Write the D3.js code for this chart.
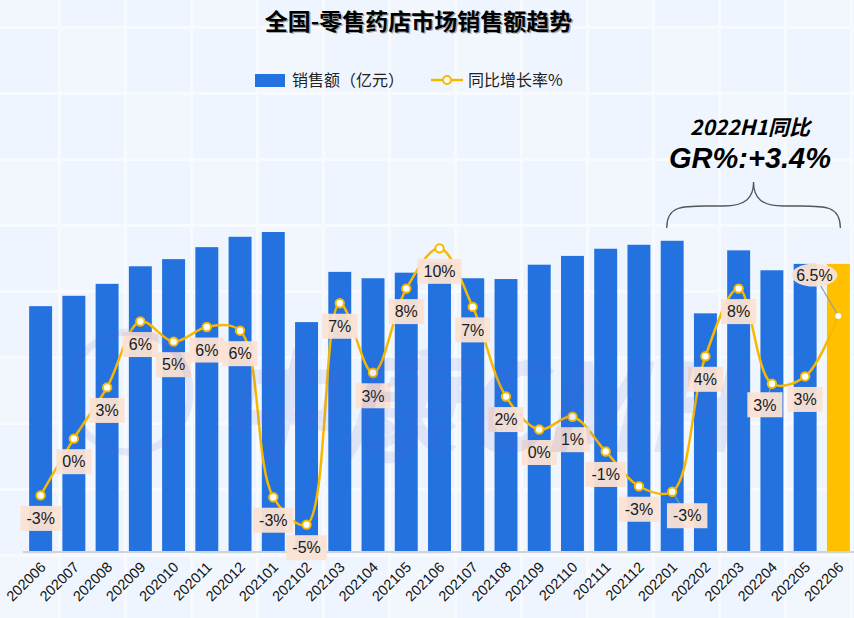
<!DOCTYPE html>
<html>
<head>
<meta charset="utf-8">
<script src="https://cdn.jsdelivr.net/npm/d3@7"></script>
<style>
  body { margin: 0; background: #f0f6fe; }
  svg { display: block; font-family: "Noto Sans CJK SC", "Noto Sans", sans-serif; }
</style>
</head>
<body>
<div id="chart"></div>
<script>
// Data
var months = ["202006", "202007", "202008", "202009", "202010", "202011", "202012",
    "202101", "202102", "202103", "202104", "202105", "202106", "202107", "202108",
    "202109", "202110", "202111", "202112", "202201", "202202", "202203", "202204",
    "202205", "202206"];

// monthly sales, 亿元 (estimated, no axis shown)
var sales = [307, 320, 335, 357, 366, 381, 394, 400, 287, 350, 342, 349, 362,
    342, 341, 359, 370, 379, 384, 389, 298, 377, 352, 360, 360];

// YoY growth, %
var growth = [-3.3, -0.2, 2.6, 6.2, 5.1, 5.9, 5.7, -3.4, -4.9, 7.2, 3.4, 8.0, 10.2,
    7.0, 2.1, 0.3, 1.0, -0.9, -2.8, -3.1, 4.3, 8.0, 2.8, 3.2, 6.5];

var legendLabels = ["销售额（亿元）", "同比增长率%"];

var svgWidth = 854;
var svgHeight = 618;
var baseline = 551;

var svg = d3.select("#chart")
    .append("svg")
    .attr("width", svgWidth)
    .attr("height", svgHeight);

// background tiles
var bg = svg.append("g");
bg.append("rect")
    .attr("width", svgWidth)
    .attr("height", svgHeight)
    .attr("fill", "#f7faff");
var tile = 66;
for (var gx = 0; gx * tile - 5 < svgWidth; gx++) {
    for (var gy = 0; gy * tile - 37 < svgHeight; gy++) {
        bg.append("rect")
            .attr("x", gx * tile - 5)
            .attr("y", gy * tile - 37)
            .attr("width", tile - 3)
            .attr("height", tile - 3)
            .attr("fill", (gx + gy * 2) % 3 === 0 ? "#f2f7fe" : "#eef5fe");
    }
}

// scales
var x = d3.scaleBand()
    .domain(months)
    .range([24, 855])
    .paddingInner(0.31)
    .paddingOuter(0.155);

var ySales = d3.scaleLinear()
    .domain([0, 600])
    .range([baseline, 72.5]);

var yGrowth = d3.scaleLinear()
    .domain([-5, 10])
    .range([526.5, 252]);

// axis line
svg.append("line")
    .attr("x1", 23)
    .attr("x2", svgWidth)
    .attr("y1", baseline + 1)
    .attr("y2", baseline + 1)
    .attr("stroke", "#d0d3d8")
    .attr("stroke-width", 2);

// bars
var last = months.length - 1;
svg.append("g")
    .selectAll("rect")
    .data(months)
    .join("rect")
    .attr("x", d => x(d))
    .attr("y", (d, i) => ySales(sales[i]))
    .attr("width", x.bandwidth())
    .attr("height", (d, i) => baseline - ySales(sales[i]))
    .attr("fill", (d, i) => i === last ? "#ffc000" : "#2372e0");

// x labels
svg.append("g")
    .selectAll("text")
    .data(months)
    .join("text")
    .attr("transform", d => `translate(${x(d) + x.bandwidth() / 2 + 6}, 568) rotate(-45)`)
    .attr("text-anchor", "end")
    .style("font-size", "14.5px")
    .style("font-family", "Liberation Sans, Arial, sans-serif")
    .attr("fill", "#111")
    .text(d => d);

// growth line
var cx = d => x(d) + x.bandwidth() / 2;
var line = d3.line()
    .x(d => cx(d))
    .y((d, i) => yGrowth(growth[i]))
    .curve(d3.curveCatmullRom.alpha(0.5));

svg.append("path")
    .datum(months)
    .attr("d", line)
    .attr("fill", "none")
    .attr("stroke", "#f7b900")
    .attr("stroke-width", 2.5);

// label adjustments (leader-line labels)
var labelShift = { "202201": [15, 1], "202204": [-7, -2], "202206": [-24, -64] };

// leader lines
svg.append("g")
    .selectAll("line")
    .data(months.filter(m => labelShift[m]))
    .join("line")
    .attr("x1", d => cx(d))
    .attr("y1", d => yGrowth(growth[months.indexOf(d)]))
    .attr("x2", d => cx(d) + labelShift[d][0] * 0.75)
    .attr("y2", d => yGrowth(growth[months.indexOf(d)]) + (23 + labelShift[d][1]) * 0.75)
    .attr("stroke", "#999")
    .attr("stroke-width", 1.2);

// points
svg.append("g")
    .selectAll("circle")
    .data(months)
    .join("circle")
    .attr("cx", d => cx(d))
    .attr("cy", (d, i) => yGrowth(growth[i]))
    .attr("r", (d, i) => i === last ? 3 : 4.2)
    .attr("fill", "#fff")
    .attr("stroke", (d, i) => i === last ? "none" : "#f7b900")
    .attr("stroke-width", 2);

// data labels (plain hyphen minus like the source)
var fmt = (v, i) => (i === last ? v.toFixed(1) : String(Math.round(v))) + "%";
var labels = svg.append("g")
    .selectAll("g")
    .data(months)
    .join("g")
    .attr("transform", (d, i) => {
        var s = labelShift[d] || [0, 0];
        return `translate(${cx(d) + s[0]}, ${yGrowth(growth[i]) + 23 + s[1]})`;
    });

labels.each(function (d, i) {
    var g = d3.select(this);
    var t = fmt(growth[i], i);
    var shape = g.append(i === last ? "ellipse" : "rect");
    var txt = g.append("text")
        .attr("text-anchor", "middle")
        .attr("dy", "0.36em")
        .style("font-size", "16px")
        .style("font-family", "Liberation Sans, Arial, sans-serif")
        .attr("fill", "#1a1a1a")
        .text(t);
    var w = txt.node().getComputedTextLength() + 12;
    if (i === last) {
        shape.attr("rx", 23).attr("ry", 11.5);
    } else {
        shape.attr("x", -w / 2)
            .attr("y", -12.5)
            .attr("width", w)
            .attr("height", 25);
    }
    shape.attr("fill", "#fbe3d4").attr("opacity", 0.95);
});

// watermark
var wm = svg.append("g").attr("opacity", 0.11);
wm.append("circle")
    .attr("cx", 130)
    .attr("cy", 392)
    .attr("r", 60)
    .attr("fill", "none")
    .attr("stroke", "#5a5fc8")
    .attr("stroke-width", 7);
wm.append("text")
    .attr("x", 215)
    .attr("y", 452)
    .style("font-size", "122px")
    .style("font-weight", "bold")
    .style("font-style", "italic")
    .attr("fill", "#5a5fc8")
    .text("中康CMH");

// title
var title = "全国-零售药店市场销售额趋势";
svg.append("text")
    .attr("x", 420)
    .attr("y", 31)
    .attr("text-anchor", "middle")
    .style("font-size", "23px")
    .style("font-weight", "bold")
    .attr("fill", "#888")
    .attr("opacity", 0.7)
    .text(title);
svg.append("text")
    .attr("x", 418.5)
    .attr("y", 29.5)
    .attr("text-anchor", "middle")
    .style("font-size", "23px")
    .style("font-weight", "bold")
    .attr("fill", "#000")
    .text(title);

// legend
var legend = svg.append("g").attr("transform", "translate(0, 80)");
legend.append("rect")
    .attr("x", 255)
    .attr("y", -6)
    .attr("width", 30)
    .attr("height", 13)
    .attr("fill", "#2372e0");
legend.append("text")
    .attr("x", 292)
    .attr("y", 0)
    .attr("dy", "0.35em")
    .style("font-size", "16px")
    .attr("fill", "#222")
    .text(legendLabels[0]);
legend.append("line")
    .attr("x1", 431)
    .attr("x2", 463)
    .attr("y1", 0)
    .attr("y2", 0)
    .attr("stroke", "#f7b900")
    .attr("stroke-width", 2.5);
legend.append("circle")
    .attr("cx", 447)
    .attr("cy", 0)
    .attr("r", 4)
    .attr("fill", "#fff")
    .attr("stroke", "#f7b900")
    .attr("stroke-width", 2);
legend.append("text")
    .attr("x", 468)
    .attr("y", 0)
    .attr("dy", "0.35em")
    .style("font-size", "16px")
    .attr("fill", "#222")
    .text(legendLabels[1]);

// H1 annotation
svg.append("text")
    .attr("x", 750)
    .attr("y", 135)
    .attr("text-anchor", "middle")
    .style("font-size", "21px")
    .style("font-weight", "bold")
    .style("font-style", "italic")
    .attr("fill", "#000")
    .text("2022H1同比");
svg.append("text")
    .attr("x", 750)
    .attr("y", 168)
    .attr("text-anchor", "middle")
    .style("font-size", "29px")
    .style("font-weight", "bold")
    .style("font-style", "italic")
    .style("font-family", "Liberation Sans, Arial, sans-serif")
    .attr("fill", "#000")
    .text("GR%:+3.4%");

// curly brace over 2022H1 bars
var bx0 = x("202201") + 6, bx1 = cx("202206") + 2, bm = (bx0 + bx1) / 2;
var braceTop = 182, braceBot = 228, braceMid = 206;
var brace = d3.path();
brace.moveTo(bx0, braceBot);
brace.bezierCurveTo(bx0, braceMid, bx0 + 15, braceMid, bx0 + 40, braceMid);
brace.lineTo(bm - 30, braceMid);
brace.bezierCurveTo(bm - 8, braceMid, bm, braceMid - 8, bm, braceTop);
brace.bezierCurveTo(bm, braceMid - 8, bm + 8, braceMid, bm + 30, braceMid);
brace.lineTo(bx1 - 40, braceMid);
brace.bezierCurveTo(bx1 - 15, braceMid, bx1, braceMid, bx1, braceBot);
svg.append("path")
    .attr("d", brace.toString())
    .attr("fill", "none")
    .attr("stroke", "#555")
    .attr("stroke-width", 1.3);
</script>
</body>
</html>
